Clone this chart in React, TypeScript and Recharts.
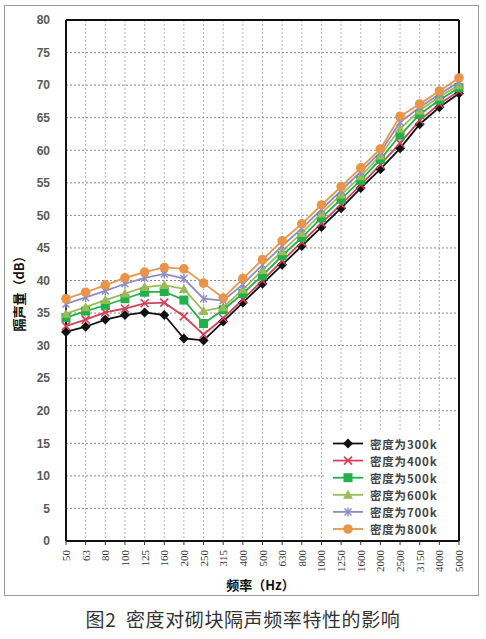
import React from 'react';
import { LineChart, Line, XAxis, YAxis, CartesianGrid, ReferenceLine } from 'recharts';

const freqs = ['50','63','80','100','125','160','200','250','315','400','500','630','800','1000','1250','1600','2000','2500','3150','4000','5000'];
const d300 = [32.1,32.9,34.0,34.7,35.1,34.7,31.1,30.8,33.7,36.6,39.5,42.4,45.3,48.2,51.1,54.2,57.1,60.3,64.0,66.6,68.7];
const d400 = [33.0,34.0,35.1,35.7,36.5,36.6,34.5,31.7,34.2,37.1,40.0,43.0,45.9,48.8,51.7,54.7,57.8,61.1,64.6,67.1,69.1];
const d500 = [34.3,35.3,36.2,37.2,38.2,38.3,37.0,33.4,35.5,38.0,40.8,43.8,46.6,49.6,52.5,55.4,58.6,62.3,65.5,67.7,69.6];
const d600 = [34.9,35.9,37.0,38.0,39.0,39.3,38.7,35.3,35.9,38.6,41.6,44.5,47.3,50.3,53.2,56.0,59.2,63.3,66.1,68.2,70.0];
const d700 = [36.4,37.4,38.4,39.5,40.4,41.0,40.3,37.2,36.9,39.4,42.4,45.3,48.0,50.9,53.8,56.7,59.7,64.3,66.6,68.6,70.5];
const d800 = [37.2,38.2,39.3,40.4,41.3,42.0,41.8,39.6,37.3,40.3,43.2,46.1,48.7,51.6,54.4,57.3,60.2,65.2,67.1,69.1,71.1];
const seriesNames = ['密度为300k','密度为400k','密度为500k','密度为600k','密度为700k','密度为800k'];
const seriesKeys = ['s300','s400','s500','s600','s700','s800'];
const seriesColors = ['#111111','#d4415a','#22b04b','#9bbb59','#8e8cc8','#e8954a'];
const seriesMarkers = ['diamond','x','square','triangle','star','circle'];
const yTicks = [0,5,10,15,20,25,30,35,40,45,50,55,60,65,70,75,80];

const allSeries = [d300,d400,d500,d600,d700,d800];
const data = freqs.map((f, i) => {
  const row: any = { f };
  seriesKeys.forEach((k, j) => { row[k] = allSeries[j][i]; });
  return row;
});

function Marker({ kind, color, cx, cy }: { kind: string; color: string; cx: number; cy: number }) {
  if (kind === 'diamond') {
    return <polygon points={`${cx},${cy - 5} ${cx + 5},${cy} ${cx},${cy + 5} ${cx - 5},${cy}`} fill={color} />;
  }
  if (kind === 'x') {
    return (
      <g stroke={color} strokeWidth={1.6}>
        <line x1={cx - 4} y1={cy - 4} x2={cx + 4} y2={cy + 4} />
        <line x1={cx - 4} y1={cy + 4} x2={cx + 4} y2={cy - 4} />
      </g>
    );
  }
  if (kind === 'square') {
    return <rect x={cx - 4.5} y={cy - 4.5} width={9} height={9} fill={color} />;
  }
  if (kind === 'triangle') {
    return <polygon points={`${cx},${cy - 5} ${cx + 5},${cy + 4} ${cx - 5},${cy + 4}`} fill={color} />;
  }
  if (kind === 'star') {
    return (
      <g stroke={color} strokeWidth={1.4}>
        <line x1={cx - 3.5} y1={cy - 3.5} x2={cx + 3.5} y2={cy + 3.5} />
        <line x1={cx - 3.5} y1={cy + 3.5} x2={cx + 3.5} y2={cy - 3.5} />
        <line x1={cx} y1={cy - 4.5} x2={cx} y2={cy + 4.5} />
      </g>
    );
  }
  return <circle cx={cx} cy={cy} r={4.8} fill={color} />;
}

const makeDot = (kind: string, color: string) => (props: any) => {
  const { cx, cy, index } = props;
  if (cx == null || cy == null) return <g key={`d-${index}`} />;
  return <g key={`d-${kind}-${index}`}><Marker kind={kind} color={color} cx={cx} cy={cy} /></g>;
};

const XTick = (props: any) => {
  const { x, y, payload } = props;
  const ty = y + 3;
  return (
    <text
      x={x}
      y={ty}
      transform={`rotate(-90 ${x} ${ty})`}
      textAnchor="end"
      dominantBaseline="central"
      fontSize={11}
      fontFamily="'Liberation Serif', serif"
      fill="#333"
    >
      {payload.value}
    </text>
  );
};

const YLabel = (props: any) => {
  const { viewBox } = props;
  const x = 18;
  const y = viewBox.y + viewBox.height / 2 + 10;
  return (
    <text
      x={x}
      y={y}
      transform={`rotate(-90 ${x} ${y})`}
      textAnchor="middle"
      dominantBaseline="central"
      fontSize={13}
      fontWeight="bold"
      fontFamily="'Noto Sans CJK SC', sans-serif"
      fill="#111"
    >
      隔声量（dB）
    </text>
  );
};

const XLabel = (props: any) => {
  const { viewBox } = props;
  const x = viewBox.x + viewBox.width / 2 - 2;
  const y = 584;
  return (
    <text
      x={x}
      y={y}
      textAnchor="middle"
      dominantBaseline="central"
      fontSize={13}
      fontWeight="bold"
      fontFamily="'Noto Sans CJK SC', sans-serif"
      fill="#111"
    >
      频率（Hz）
    </text>
  );
};

export default function App() {
  return (
    <div style={{ position: 'absolute', left: 0, top: 0, width: 486, height: 639, background: '#fff', overflow: 'hidden' }}>
      <div style={{ position: 'absolute', left: 4, top: 5, width: 475, height: 591, border: '1px solid #999', boxSizing: 'border-box' }} />
      <div style={{ position: 'absolute', left: 0, top: 0 }}>
        <LineChart width={486} height={600} data={data} margin={{ top: 20, right: 27, left: 0, bottom: 0 }}>
          <CartesianGrid horizontal={false} vertical stroke="#b5b5b5" strokeDasharray="2 2" />
          <CartesianGrid horizontal vertical={false} stroke="#8a8a8a" strokeDasharray="2 2" />
          <XAxis
            dataKey="f"
            scale="point"
            padding={{ left: 0, right: 0 }}
            interval={0}
            height={59}
            tick={<XTick />}
            tickSize={4}
            tickMargin={2}
            tickLine={{ stroke: '#333' }}
            axisLine={{ stroke: '#111', strokeWidth: 2 }}
            label={<XLabel />}
          />
          <YAxis
            domain={[0, 80]}
            ticks={yTicks}
            interval={0}
            width={66}
            tickLine={false}
            tickMargin={10}
            axisLine={{ stroke: '#111', strokeWidth: 2 }}
            tick={{ fontSize: 12, fontWeight: 'bold', fill: '#595959', fontFamily: "'Liberation Sans', sans-serif" }}
            label={<YLabel />}
          />
          <ReferenceLine y={80} stroke="#111" strokeWidth={2} />
          <ReferenceLine x="5000" stroke="#111" strokeWidth={2} />
          {seriesKeys.map((k, j) => (
            <Line
              key={k}
              type="linear"
              dataKey={k}
              stroke={seriesColors[j]}
              strokeWidth={1.8}
              dot={makeDot(seriesMarkers[j], seriesColors[j])}
              activeDot={false}
              isAnimationActive={false}
            />
          ))}
        </LineChart>
      </div>
      <svg style={{ position: 'absolute', left: 324, top: 432 }} width={133} height={107}>
        <rect x={0} y={0} width={133} height={107} fill="#fff" />
        {seriesNames.map((name, j) => {
          const cy = 11.5 + j * 17.1;
          return (
            <g key={name}>
              <line x1={9} y1={cy} x2={39} y2={cy} stroke={seriesColors[j]} strokeWidth={1.8} />
              <Marker kind={seriesMarkers[j]} color={seriesColors[j]} cx={24} cy={cy} />
              <text
                x={46}
                y={cy}
                dominantBaseline="central"
                fontSize={11.5}
                fontWeight="bold"
                letterSpacing={0.8}
                fill="#444"
                fontFamily="'Noto Sans CJK SC', sans-serif"
              >
                {name}
              </text>
            </g>
          );
        })}
      </svg>
      <div style={{ position: 'absolute', left: 0, top: 606, width: 486, textAlign: 'center', fontSize: 19, letterSpacing: 0.6, color: '#333', fontFamily: "'Noto Sans CJK SC', sans-serif", lineHeight: '26px', whiteSpace: 'pre' }}>
        {'图2  密度对砌块隔声频率特性的影响'}
      </div>
    </div>
  );
}
